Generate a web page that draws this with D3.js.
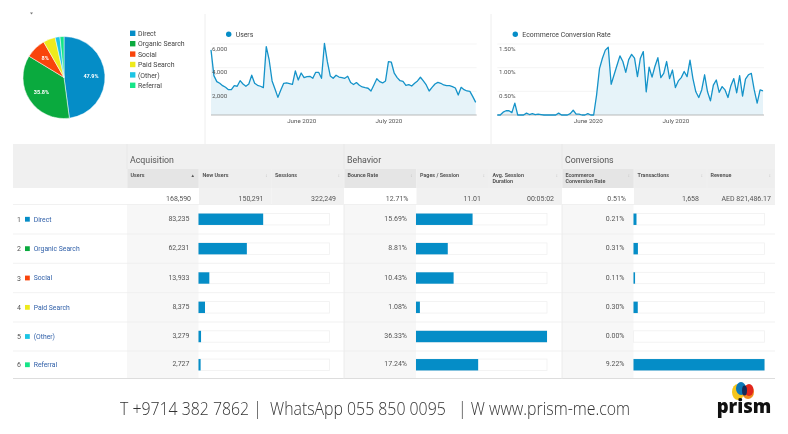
<!DOCTYPE html>
<html>
<head>
<meta charset="utf-8">
<script src="https://cdn.jsdelivr.net/npm/d3@7"></script>
<style>
  body { margin: 0; background: #fff; }
  svg { display: block; font-family: Roboto, sans-serif; filter: blur(0.3px); }
  .chart-axis path, .chart-axis line { display: none; }
</style>
</head>
<body>
<div class="chart"></div>
<script>
const channels = ['Direct', 'Organic Search', 'Social', 'Paid Search', '(Other)', 'Referral'];
const channelColors = ['#058dc7', '#0aaa3e', '#f9440b', '#eeea1c', '#1cc5e4', '#16e588'];
const usersByChannel = [83235, 62231, 13933, 8375, 3279, 2727];
const bounceByChannel = [15.69, 8.81, 10.43, 1.08, 36.33, 17.24];
const convByChannel = [0.21, 0.31, 0.11, 0.30, 0.00, 9.22];
const pieLabels = ['47.9%', '35.8%', '8%', '', '', ''];

const usersDaily = [5500, 3330, 2820, 2680, 2480, 2340, 2140, 2140, 2480, 2430, 2900, 2620,
  2430, 2620, 3360, 2680, 2510, 2430, 2310, 5780, 4650, 2880, 2200, 1490, 2120, 2680, 2710,
  2650, 2590, 3720, 2960, 3550, 3160, 3240, 3270, 3100, 3610, 3610, 3100, 6060, 4510, 3300,
  3100, 3360, 3210, 3160, 3100, 3270, 2740, 2570, 2740, 2510, 2370, 2310, 2260, 2030, 2540,
  3070, 2820, 2710, 2880, 4510, 4460, 3530, 3160, 2900, 2850, 2510, 2570, 2450, 2680, 2880,
  3190, 2880, 2540, 2030, 2340, 2620, 2760, 2680, 2540, 2480, 2480, 2400, 2280, 1690, 2340,
  2140, 2030, 2000, 1550, 1070];
const convDaily = [0, 0, 0.06, 0.09, 0.09, 0.05, 0.25, 0, 0, 0, 0.04, 0.01, 0.03, 0.01, 0.02,
  0.01, 0, 0, 0, 0, 0, 0.04, 0, 0, 0, 0.03, 0.10, 0.02, 0.02, 0, 0, 0.03, 0, 0, 0.42, 0.98,
  1.2, 1.37, 1.43, 0.65, 0.85, 1.05, 1.25, 1.13, 0.9, 1.17, 1.28, 1.2, 0.81, 1.2, 1.34, 0.49,
  1.01, 0.8, 1.03, 1.21, 0.79, 0.88, 1.13, 0.77, 0.95, 0.58, 0.72, 0.79, 0.92, 0.81, 1.16,
  0.77, 0.49, 0.37, 0.53, 0.85, 0.49, 0.3, 0.63, 0.74, 0.48, 0.6, 0.53, 0.37, 0.62, 0.77,
  0.47, 0.83, 0.4, 0.76, 0.85, 0.88, 0.53, 0.25, 0.53, 0.51];
const usersTicks = [2000, 4000, 6000];
const convTicks = [0.5, 1, 1.5];

const groupNames = ['Acquisition', 'Behavior', 'Conversions'];
const columnNames = ['Users', 'New Users', 'Sessions', 'Bounce Rate', 'Pages / Session',
  'Avg. Session|Duration', 'Ecommerce|Conversion Rate', 'Transactions', 'Revenue'];
const totals = ['168,590', '150,291', '322,249', '12.71%', '11.01', '00:05:02', '0.51%', '1,658', 'AED 821,486.17'];
const usersTotal = 168590;

const blue = '#058dc7';
const dates = d3.timeDay.range(new Date(2020, 4, 1), new Date(2020, 7, 1));
const colX = [127, 199, 271.5, 344, 416.5, 489, 562, 634, 707, 775];
const rowY = [204.5, 234, 263.3, 292.7, 322, 351, 378.5];

const svg = d3.select('.chart').append('svg')
  .attr('width', 788)
  .attr('height', 434);

// ---- pie ----
const pieG = svg.append('g').attr('transform', 'translate(64,77.5)');
const arc = d3.arc().innerRadius(0).outerRadius(41);
const labelArc = d3.arc().innerRadius(27).outerRadius(27);
const pieData = d3.pie().sort(null)(usersByChannel);
pieG.selectAll('path').data(pieData).enter().append('path')
  .attr('d', arc)
  .attr('fill', (d, i) => channelColors[i])
  .attr('stroke', '#fff')
  .attr('stroke-width', 0.5);
pieG.selectAll('text').data(pieData).enter().append('text')
  .attr('transform', d => `translate(${labelArc.centroid(d)})`)
  .attr('text-anchor', 'middle')
  .attr('dy', 2)
  .attr('font-size', 5.5)
  .attr('font-weight', 700)
  .attr('fill', '#fff')
  .text((d, i) => pieLabels[i]);
svg.append('path').attr('d', 'M30 12.5h3l-1.5 2z').attr('fill', '#777');

const legend = svg.selectAll('.pie-legend').data(channels).enter().append('g')
  .attr('class', 'pie-legend')
  .attr('transform', (d, i) => `translate(130,${33.3 + i * 10.4})`);
legend.append('rect').attr('y', -2.7).attr('width', 5.4).attr('height', 5.4)
  .attr('fill', (d, i) => channelColors[i]);
legend.append('text').attr('x', 8).attr('y', 2.7).attr('font-size', 6.9).attr('fill', '#444').text(d => d);

// panel separators
svg.selectAll('.sep').data([205, 491]).enter().append('line')
  .attr('x1', d => d).attr('x2', d => d).attr('y1', 14).attr('y2', 144)
  .attr('stroke', '#eeeeee');

// ---- line charts ----
function lineChart(values, ticks, fmt, x0, x1, title, legendX, labelX) {
  const g = svg.append('g');
  const x = d3.scaleTime().domain(d3.extent(dates)).range([x0, x1]);
  const y = d3.scaleLinear().domain([0, ticks[2]]).range([115, 44]);

  g.selectAll('.grid').data(ticks).enter().append('line')
    .attr('x1', x0).attr('x2', x1 + 1)
    .attr('y1', d => y(d)).attr('y2', d => y(d))
    .attr('stroke', '#f0f0f0').attr('stroke-width', 0.7);

  g.append('path').datum(values)
    .attr('fill', '#e6f3f9')
    .attr('d', d3.area().x((d, i) => x(dates[i])).y0(y(0)).y1(d => y(d)));
  g.append('line').attr('x1', x0).attr('x2', x1 + 1).attr('y1', 115).attr('y2', 115)
    .attr('stroke', '#a8a8a8').attr('stroke-width', 0.8);
  g.append('path').datum(values)
    .attr('fill', 'none')
    .attr('stroke', '#1593c9')
    .attr('stroke-width', 1.3)
    .attr('stroke-linejoin', 'round')
    .attr('d', d3.line().x((d, i) => x(dates[i])).y(d => y(d)));

  g.selectAll('.ylab').data(ticks).enter().append('text')
    .attr('x', labelX).attr('y', d => y(d) + 6.5)
    .attr('font-size', 6.2).attr('fill', '#555')
    .text(fmt);

  const axis = d3.axisBottom(x)
    .tickValues([new Date(2020, 5, 1), new Date(2020, 6, 1)])
    .tickFormat(d3.timeFormat('%B %Y'))
    .tickSize(0).tickPadding(4);
  const ax = g.append('g').attr('class', 'chart-axis').attr('transform', 'translate(0,115)').call(axis);
  ax.selectAll('text').attr('font-size', 6.2).attr('fill', '#555').attr('font-family', 'Roboto, sans-serif');

  g.append('circle').attr('cx', legendX).attr('cy', 34.3).attr('r', 2.7).attr('fill', blue);
  g.append('text').attr('x', legendX + 7).attr('y', 37).attr('font-size', 6.9).attr('fill', '#444').text(title);
}
lineChart(usersDaily, usersTicks, d3.format(','), 211, 475.7, 'Users', 228.7, 212);
lineChart(convDaily, convTicks, d => d3.format('.2f')(d) + '%', 497.3, 763, 'Ecommerce Conversion Rate', 515.3, 499);

// ---- table ----
const table = svg.append('g');
table.append('rect').attr('x', 13).attr('y', 144).attr('width', 762).attr('height', 44).attr('fill', '#f0f0f0');
// sub header cells
d3.range(9).forEach(i => {
  const sorted = i === 0 || i === 3 || i === 6;
  table.append('rect')
    .attr('x', colX[i] + 0.5).attr('y', 169).attr('width', colX[i + 1] - colX[i] - 1).attr('height', 19)
    .attr('fill', sorted ? '#e5e5e5' : '#eeeeee');
  table.append('rect')
    .attr('x', colX[i]).attr('y', 188).attr('width', colX[i + 1] - colX[i]).attr('height', 16.5)
    .attr('fill', sorted ? '#ffffff' : '#f1f1f1');
  const lines = columnNames[i].split('|');
  lines.forEach((t, k) => {
    table.append('text')
      .attr('x', colX[i] + 3.5).attr('y', 177 + k * 6.3)
      .attr('font-size', 5.4).attr('font-weight', 700).attr('fill', '#555').text(t);
  });
  table.append('text')
    .attr('x', colX[i + 1] - 4).attr('y', 177)
    .attr('text-anchor', 'end').attr('font-size', 4.5)
    .attr('fill', i === 0 ? '#555' : '#bbb').text(i === 0 ? '▲' : '↕');
  table.append('text')
    .attr('x', colX[i + 1] - (i === 8 ? 4 : 8)).attr('y', 201)
    .attr('text-anchor', 'end').attr('font-size', 7).attr('fill', '#555').text(totals[i]);
});
// vertical divider between header groups
colX.slice(0, 1).concat([344, 562]).forEach(x => {
  table.append('line').attr('x1', x).attr('x2', x).attr('y1', 144).attr('y2', 169)
    .attr('stroke', '#e8e8e8');
});
groupNames.forEach((t, i) => {
  table.append('text').attr('x', [130, 347, 565][i]).attr('y', 163)
    .attr('font-size', 8.8).attr('fill', '#555').text(t);
});

// data rows: value column + bar column per metric
const metrics = [
  { values: usersByChannel, max: usersTotal, fmt: d3.format(','), col: 0 },
  { values: bounceByChannel, max: d3.max(bounceByChannel), fmt: d => d3.format('.2f')(d) + '%', col: 3 },
  { values: convByChannel, max: d3.max(convByChannel), fmt: d => d3.format('.2f')(d) + '%', col: 6 }
];
metrics.forEach(m => {
  const left = colX[m.col], barLeft = colX[m.col + 1] - 0.5;
  table.append('rect').attr('x', left).attr('y', rowY[0]).attr('width', barLeft - left).attr('height', rowY[6] - rowY[0])
    .attr('fill', '#f7f7f7');
});
rowY.forEach(y => {
  table.append('line').attr('x1', 13).attr('x2', 775).attr('y1', y).attr('y2', y)
    .attr('stroke', y === 378.5 ? '#dddddd' : '#eeeeee').attr('stroke-width', y === 378.5 ? 1.2 : 0.8);
});
[344, 562].forEach(x => {
  table.append('line').attr('x1', x).attr('x2', x).attr('y1', 204.5).attr('y2', 378.5).attr('stroke', '#ececec');
});
metrics.forEach(m => {
  const barLeft = colX[m.col + 1] - 0.5;
  const x = d3.scaleLinear().domain([0, m.max]).range([0, 131]);
  m.values.forEach((v, i) => {
    const cy = (rowY[i] + rowY[i + 1]) / 2;
    table.append('text')
      .attr('x', colX[m.col + 1] - 9.5).attr('y', cy + 1.7)
      .attr('text-anchor', 'end').attr('font-size', 7).attr('fill', '#555').text(m.fmt(v));
    table.append('rect').attr('x', barLeft).attr('y', cy - 5.7).attr('width', 131).attr('height', 11.4)
      .attr('fill', '#fff').attr('stroke', '#f0f0f0').attr('stroke-width', 0.8);
    table.append('rect').attr('x', barLeft).attr('y', cy - 5.7).attr('width', x(v)).attr('height', 11.4)
      .attr('fill', blue);
  });
});
channels.forEach((c, i) => {
  const cy = (rowY[i] + rowY[i + 1]) / 2;
  table.append('text').attr('x', 17).attr('y', cy + 2.5).attr('font-size', 7).attr('fill', '#555').text(i + 1);
  table.append('rect').attr('x', 25).attr('y', cy - 2.4).attr('width', 4.8).attr('height', 4.8).attr('fill', channelColors[i]);
  table.append('text').attr('x', 33.7).attr('y', cy + 2.3).attr('font-size', 6.8).attr('fill', '#2f5fa8').text(c);
});

// ---- footer ----
svg.append('text').attr('x', 120).attr('y', 415)
  .attr('xml:space', 'preserve')
  .style('white-space', 'pre')
  .style('font-family', '"Open Sans", sans-serif')
  .attr('font-size', 17.5).attr('font-weight', 300).attr('fill', '#333')
  .attr('textLength', 510).attr('lengthAdjust', 'spacingAndGlyphs')
  .text('T +9714 382 7862 |  WhatsApp 055 850 0095   | W www.prism-me.com');

// logo
const logo = svg.append('g').attr('transform', 'translate(743,391)');
logo.append('ellipse').attr('cx', -5).attr('cy', 1).attr('rx', 6).attr('ry', 8).attr('fill', '#f5c51b');
logo.append('ellipse').attr('cx', 5).attr('cy', 1).attr('rx', 6).attr('ry', 7).attr('fill', '#f08a1d');
logo.append('ellipse').attr('cx', 6).attr('cy', -1).attr('rx', 4.5).attr('ry', 6).attr('fill', '#e1261c');
logo.append('ellipse').attr('cx', -2).attr('cy', -2.5).attr('rx', 5).attr('ry', 6.5).attr('fill', '#0b78b8');
logo.append('ellipse').attr('cx', 1.5).attr('cy', -0.5).attr('rx', 2.5).attr('ry', 5).attr('fill', '#132a57');
svg.append('text').attr('x', 744).attr('y', 413)
  .attr('text-anchor', 'middle')
  .style('font-family', '"Open Sans", sans-serif')
  .attr('font-size', 18.5).attr('font-weight', 800).attr('fill', '#111')
  .text('prism');
</script>
</body>
</html>
